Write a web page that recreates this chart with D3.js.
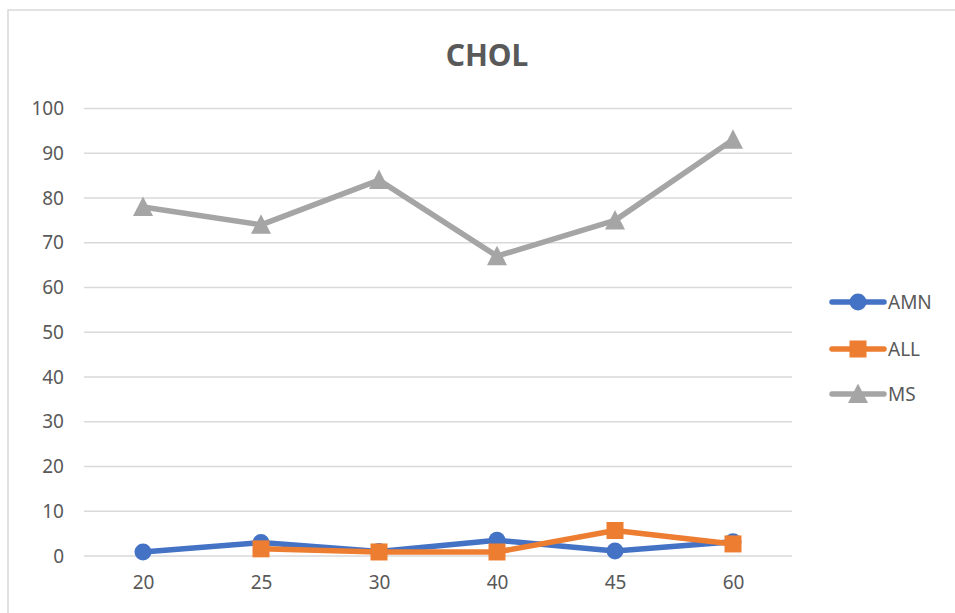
<!DOCTYPE html>
<html>
<head>
<meta charset="utf-8">
<script src="https://cdn.jsdelivr.net/npm/d3@7"></script>
<style>
  body { margin: 0; background: #fff; }
  svg { display: block; }
</style>
</head>
<body>
<svg></svg>
<script>
const categories = ['20', '25', '30', '40', '45', '60']
const amnValues = [0.9, 3, 1, 3.5, 1.1, 3.2]
const allValues = [null, 1.6, 0.9, 0.9, 5.7, 2.7]
const msValues = [78, 74, 84, 67, 75, 93]
const yTicks = [0, 10, 20, 30, 40, 50, 60, 70, 80, 90, 100]
const seriesNames = ['AMN', 'ALL', 'MS']

const w = 955
const h = 613
const font = "'Noto Sans', 'Liberation Sans', sans-serif"
const textColor = '#595959'

let svg = d3.select('svg').attr('width', w).attr('height', h)

// chart frame
svg.append('rect')
  .attr('x', 8).attr('y', 10)
  .attr('width', w).attr('height', h)
  .attr('fill', '#fff')
  .attr('stroke', '#d9d9d9')
  .attr('stroke-width', 1.5)

let xScale = d3.scalePoint()
  .domain(categories)
  .range([84, 792])
  .padding(0.5)

let yScale = d3.scaleLinear()
  .domain([0, 100])
  .range([556, 108.5])

// gridlines
svg.append('g')
  .selectAll('line')
  .data(yTicks)
  .enter()
  .append('line')
  .attr('x1', 84).attr('x2', 792)
  .attr('y1', d => yScale(d)).attr('y2', d => yScale(d))
  .attr('stroke', '#d9d9d9')
  .attr('stroke-width', 1.5)

// y axis
let yAxis = d3.axisLeft(yScale).tickValues(yTicks).tickSize(0).tickPadding(0)
let yg = svg.append('g')
  .attr('transform', 'translate(64,0)')
  .call(yAxis)
yg.select('.domain').remove()
yg.selectAll('text')
  .attr('fill', textColor)
  .style('font-family', font)
  .style('font-size', '19px')

// x axis
let xAxis = d3.axisBottom(xScale).tickSize(0).tickPadding(0)
let xg = svg.append('g')
  .attr('transform', 'translate(0,575)')
  .call(xAxis)
xg.select('.domain').remove()
xg.selectAll('text')
  .attr('fill', textColor)
  .style('font-family', font)
  .style('font-size', '19px')

// title
svg.append('text')
  .attr('x', 487).attr('y', 66)
  .attr('text-anchor', 'middle')
  .attr('fill', textColor)
  .style('font-family', font)
  .style('font-size', '30px')
  .style('font-weight', 'bold')
  .text('CHOL')

const colors = ['#4472c4', '#ed7d31', '#a5a5a5']
const allSeries = [amnValues, allValues, msValues]

let line = d3.line()
  .defined(d => d[1] !== null)
  .x(d => xScale(d[0]))
  .y(d => yScale(d[1]))

let drawMarker = (g, i, x, y) => {
  if (i === 0) {
    g.append('circle').attr('cx', x).attr('cy', y).attr('r', 8.5).attr('fill', colors[i])
  } else if (i === 1) {
    g.append('rect').attr('x', x - 8.5).attr('y', y - 8.5).attr('width', 17).attr('height', 17).attr('fill', colors[i])
  } else {
    g.append('path')
      .attr('d', `M${x},${y - 10.5}L${x + 10},${y + 9}L${x - 10},${y + 9}Z`)
      .attr('fill', colors[i])
  }
}

allSeries.forEach((vals, i) => {
  let pts = categories.map((c, j) => [c, vals[j]])
  let g = svg.append('g')
  g.append('path')
    .datum(pts)
    .attr('d', line)
    .attr('fill', 'none')
    .attr('stroke', colors[i])
    .attr('stroke-width', 5.5)
    .attr('stroke-linejoin', 'round')
    .attr('stroke-linecap', 'round')
  pts.filter(p => p[1] !== null).forEach(p => {
    drawMarker(g, i, xScale(p[0]), yScale(p[1]))
  })
})

// legend
const legendY = [302, 349, 394]
seriesNames.forEach((name, i) => {
  let g = svg.append('g')
  g.append('line')
    .attr('x1', 832).attr('x2', 884)
    .attr('y1', legendY[i]).attr('y2', legendY[i])
    .attr('stroke', colors[i])
    .attr('stroke-width', 5.5)
    .attr('stroke-linecap', 'round')
  drawMarker(g, i, 858, legendY[i])
  g.append('text')
    .attr('x', 888).attr('y', legendY[i])
    .attr('dy', '0.35em')
    .attr('fill', textColor)
    .style('font-family', font)
    .style('font-size', '19px')
    .text(name)
})
</script>
</body>
</html>
